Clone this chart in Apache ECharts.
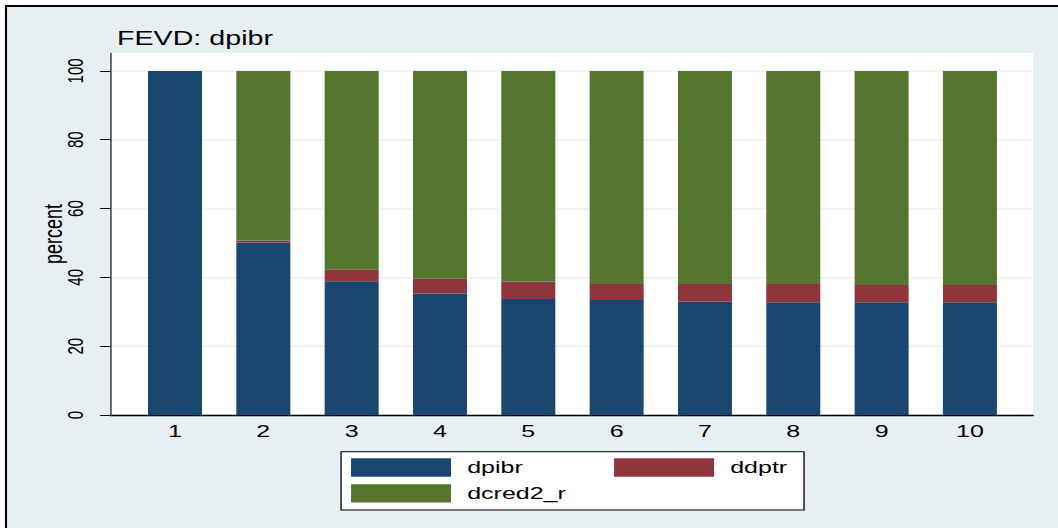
<!DOCTYPE html>
<html>
<head>
<meta charset="utf-8">
<title>FEVD: dpibr</title>
<script src="https://cdn.jsdelivr.net/npm/echarts@6/dist/echarts.min.js"></script>
<style>
  html, body { margin: 0; padding: 0; background: #ffffff; overflow: hidden; }
  /* the chart is laid out on a narrower canvas and stretched horizontally */
  #chart { width: 720px; height: 528px; transform: scaleX(1.4694); transform-origin: 0 0; }
</style>
</head>
<body>
<div id="chart"></div>
<script>
// forecast horizon (steps)
const periods = [1, 2, 3, 4, 5, 6, 7, 8, 9, 10];
// share of forecast error variance of dpibr, percent
const dpibr    = [100, 50.1, 38.9, 35.3, 33.7, 33.4, 32.9, 32.8, 32.8, 32.8];
const ddptr    = [0,    0.6,  3.3,  4.3,  5.1,  4.7,  5.2,  5.3,  5.0,  5.0];
const dcred2_r = [0,   49.3, 57.8, 60.4, 61.2, 61.9, 61.9, 61.9, 62.2, 62.2];
const yTicks   = [0, 20, 40, 60, 80, 100];

const seriesNames  = ['dpibr', 'ddptr', 'dcred2_r'];
const seriesValues = [dpibr, ddptr, dcred2_r];
const seriesColors = ['#1a476f', '#90353b', '#55752f'];

const FONT = '"Liberation Sans", Arial, Helvetica, sans-serif';
const Y_MAX = 105.2;

const chart = echarts.init(document.getElementById('chart'), null, {
  renderer: 'svg', width: 720, height: 528
});

const legendText = {
  color: '#000', fontFamily: FONT, fontSize: 17,
  width: 90, lineHeight: 18.4, padding: [0, 0, 0, 6]
};

chart.setOption({
  backgroundColor: '#ffffff',
  animation: false,
  textStyle: { fontFamily: FONT },
  graphic: [
    // graph region
    { type: 'rect', z: -20, silent: true,
      shape: { x: 3.4, y: 5, width: 720, height: 530 },
      style: { fill: '#e8eff2' } },
    { type: 'rect', z: -19, silent: true,
      shape: { x: 3.4, y: 5, width: 1.4, height: 530 },
      style: { fill: '#000' } },
    { type: 'rect', z: -19, silent: true,
      shape: { x: 3.4, y: 5, width: 720, height: 2 },
      style: { fill: '#000' } },
    // legend frame
    { type: 'rect', z: 1, silent: true,
      shape: { x: 232.1, y: 451.7, width: 315.1, height: 58.3 },
      style: { fill: '#ffffff', stroke: '#000', lineWidth: 0.9 } },
    // title
    { type: 'text', z: 5, silent: true, left: 79.6, top: 28.5,
      style: { text: 'FEVD: dpibr', fill: '#000', font: '19.5px ' + FONT } }
  ],
  grid: [
    // plot region with axes
    { left: 74.9, right: 17.0, top: 53, bottom: 113,
      show: true, backgroundColor: '#ffffff', borderWidth: 0 },
    // band holding the bars
    { left: 89.05, right: 29.85, top: 53, bottom: 113 }
  ],
  legend: [
    { data: ['dpibr', 'ddptr'], left: 238.9, top: 458.3, orient: 'horizontal',
      icon: 'rect', itemWidth: 68.05, itemHeight: 18.4, itemGap: 9.95,
      padding: 0, textStyle: legendText, selectedMode: false },
    { data: ['dcred2_r'], left: 238.9, top: 484.2, orient: 'horizontal',
      icon: 'rect', itemWidth: 68.05, itemHeight: 18.4, itemGap: 9.95,
      padding: 0, textStyle: legendText, selectedMode: false }
  ],
  xAxis: [
    { gridIndex: 0, type: 'value', min: 0.265, max: 10.714,
      axisLine: { show: true, onZero: false, lineStyle: { color: '#000', width: 1.3 } },
      axisTick: { show: false },
      splitLine: { show: false },
      axisLabel: {
        customValues: periods, margin: 8,
        color: '#000', fontFamily: FONT, fontSize: 17
      } },
    { gridIndex: 1, type: 'category', data: periods.map(String),
      show: false }
  ],
  yAxis: [
    { gridIndex: 0, type: 'value', min: 0, max: Y_MAX, interval: 20,
      name: 'percent', nameLocation: 'middle', nameGap: 30, nameMoveOverlap: false,
      nameTextStyle: { color: '#000', fontFamily: FONT, fontSize: 18 },
      axisLine: { show: true, lineStyle: { color: '#000', width: 0.8 } },
      axisTick: { show: true, customValues: yTicks, length: 6.8,
                  lineStyle: { color: '#000', width: 1 } },
      axisLabel: {
        customValues: yTicks, rotate: 90, margin: 16,
        color: '#000', fontFamily: FONT, fontSize: 15
      },
      splitLine: { show: true, lineStyle: { color: '#eaf1f3', width: 1.5 } } },
    { gridIndex: 1, type: 'value', min: 0, max: Y_MAX, show: false,
      splitLine: { show: false } }
  ],
  series: seriesNames.map((name, k) => ({
    name: name,
    type: 'bar',
    stack: 'fevd',
    xAxisIndex: 1,
    yAxisIndex: 1,
    barWidth: 36.75,
    itemStyle: { color: seriesColors[k] },
    data: seriesValues[k]
  }))
});
</script>
</body>
</html>
